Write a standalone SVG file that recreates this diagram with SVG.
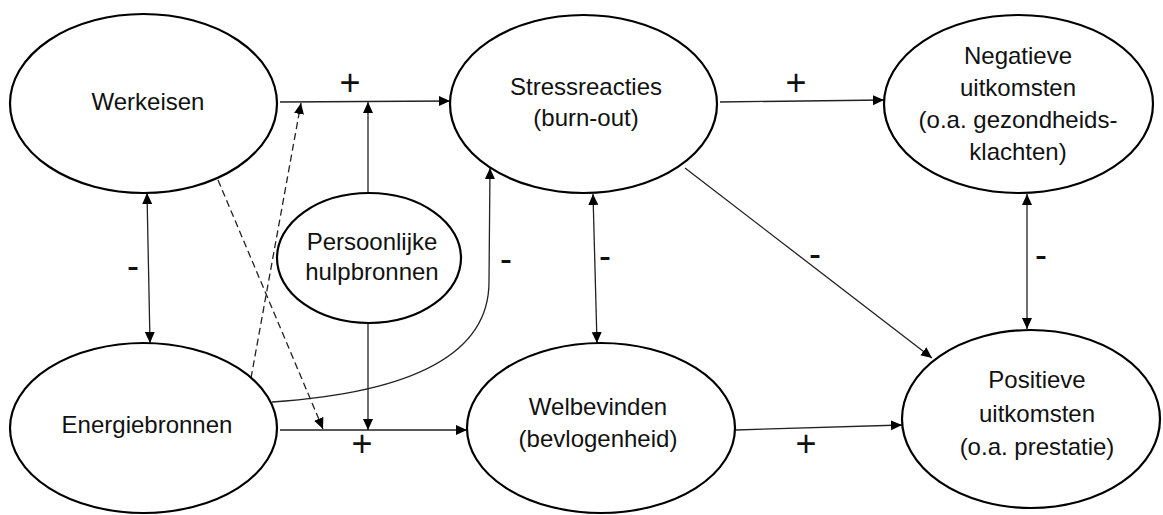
<svg xmlns="http://www.w3.org/2000/svg" width="1163" height="515" viewBox="0 0 1163 515">
<style>
.node{fill:#fff;stroke:#000;stroke-width:2.2}
.t{font-family:"Liberation Sans",Arial,sans-serif;font-size:24px;fill:#111;text-anchor:middle}
.lbl{font-family:"Liberation Sans",Arial,sans-serif;font-size:36px;fill:#111;text-anchor:middle}
.c{fill:none;stroke:#222;stroke-width:1.3}
.d{fill:none;stroke:#222;stroke-width:1.3;stroke-dasharray:7 4}
</style>
<defs>
<marker id="ah" markerUnits="userSpaceOnUse" markerWidth="12" markerHeight="12" viewBox="0 0 12 12" refX="11" refY="6" orient="auto-start-reverse">
<path d="M0,1 L11,6 L0,11 Z" fill="#000"/>
</marker>
</defs>
<rect width="1163" height="515" fill="#fff"/>
<g id="connectors">
<line class="c" x1="280" y1="102" x2="450" y2="101" marker-end="url(#ah)"/>
<line class="c" x1="720" y1="102" x2="884" y2="100" marker-end="url(#ah)"/>
<line class="c" x1="368" y1="193" x2="368" y2="102" marker-end="url(#ah)"/>
<line class="c" x1="368" y1="323" x2="368" y2="430" marker-end="url(#ah)"/>
<line class="d" x1="251" y1="378" x2="301" y2="103" marker-end="url(#ah)"/>
<line class="d" x1="218" y1="180" x2="323" y2="429" marker-end="url(#ah)"/>
<line class="c" x1="280" y1="430" x2="467" y2="430" marker-end="url(#ah)"/>
<line class="c" x1="147" y1="193" x2="150" y2="343" marker-start="url(#ah)" marker-end="url(#ah)"/>
<path class="c" d="M272,402 C420,392 489,350 489,282 L490,168" marker-end="url(#ah)"/>
<line class="c" x1="593" y1="194" x2="597" y2="343" marker-start="url(#ah)" marker-end="url(#ah)"/>
<line class="c" x1="685" y1="168" x2="932" y2="358" marker-end="url(#ah)"/>
<line class="c" x1="736" y1="430" x2="902" y2="425" marker-end="url(#ah)"/>
<line class="c" x1="1027" y1="194" x2="1027" y2="329" marker-start="url(#ah)" marker-end="url(#ah)"/>
<text class="lbl" x="350" y="95">+</text>
<text class="lbl" x="796" y="95">+</text>
<text class="lbl" x="362" y="456">+</text>
<text class="lbl" x="806" y="456">+</text>
<text class="lbl" x="133" y="278">-</text>
<text class="lbl" x="506" y="271">-</text>
<text class="lbl" x="605" y="268">-</text>
<text class="lbl" x="815" y="266">-</text>
<text class="lbl" x="1041" y="267">-</text>
</g>
<g id="werkeisen">
<ellipse class="node" cx="143.5" cy="103.5" rx="133.5" ry="89.5"/>
<text class="t" x="148" y="110">Werkeisen</text>
</g>
<g id="stressreacties">
<ellipse class="node" cx="583.5" cy="104" rx="133.5" ry="89"/>
<text class="t" x="586" y="95">Stressreacties</text>
<text class="t" x="586" y="126">(burn-out)</text>
</g>
<g id="negatieve">
<ellipse class="node" cx="1018.5" cy="104" rx="134.5" ry="89"/>
<text class="t" x="1018" y="64">Negatieve</text>
<text class="t" x="1018" y="96">uitkomsten</text>
<text class="t" x="1018" y="128">(o.a. gezondheids-</text>
<text class="t" x="1018" y="160">klachten)</text>
</g>
<g id="persoonlijke">
<ellipse class="node" cx="369" cy="258" rx="92" ry="65"/>
<text class="t" x="372" y="250">Persoonlijke</text>
<text class="t" x="372" y="280">hulpbronnen</text>
</g>
<g id="energiebronnen">
<ellipse class="node" cx="143.5" cy="428" rx="133.5" ry="85"/>
<text class="t" x="147" y="433">Energiebronnen</text>
</g>
<g id="welbevinden">
<ellipse class="node" cx="601" cy="428" rx="134" ry="85"/>
<text class="t" x="598" y="415">Welbevinden</text>
<text class="t" x="598" y="447">(bevlogenheid)</text>
</g>
<g id="positieve">
<ellipse class="node" cx="1031" cy="419" rx="129" ry="89"/>
<text class="t" x="1037" y="388">Positieve</text>
<text class="t" x="1037" y="422">uitkomsten</text>
<text class="t" x="1037" y="455">(o.a. prestatie)</text>
</g>
</svg>
